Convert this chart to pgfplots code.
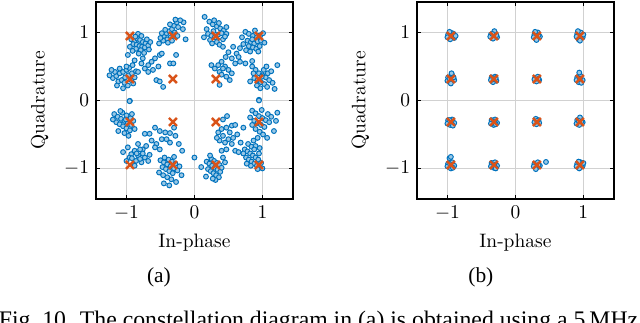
\documentclass[border=0pt]{standalone}
\usepackage{fontspec}
\usepackage{pgfplots}
\pgfplotsset{compat=1.18}
\newfontfamily\capfont{Liberation Serif}
\definecolor{mblue}{RGB}{0,114,189}
\definecolor{mred}{RGB}{217,83,25}

\pgfplotsset{
  constel/.style={
    scale only axis, width=101.3pt, height=101.3pt,
    xmin=-1.45, xmax=1.45, ymin=-1.45, ymax=1.45,
    xtick={-1,0,1}, ytick={-1,0,1},
    grid=major, grid style={black!18, line width=0.75pt},
    axis line style={line width=0.65pt},
    tick align=inside, major tick length=2pt, tick style={black, line width=0.5pt},
    xlabel={In-phase}, ylabel={Quadrature},
    every axis x label/.style={at={(axis description cs:0.5,-0.223)}, anchor=center},
    every axis y label/.style={at={(axis description cs:-0.286,0.5)}, rotate=90, anchor=center},
  },
  rx/.style={only marks, mark=*, mark size=1.25pt,
    mark options={draw=mblue, fill=mblue!40, line width=0.5pt}},
  ideal/.style={only marks, mark=x, mark size=2.9pt,
    mark options={draw=mred, line width=1.25pt}},
}

\begin{document}
\begin{tikzpicture}

% (a) received symbols, 5 MHz
\begin{axis}[constel, at={(49.3pt,63.7pt)}, anchor=south west]
\addplot[rx] coordinates {
 (-0.93,0.90) (-0.88,0.88) (-0.84,0.91) (-0.80,0.89) (-0.76,0.86) (-0.72,0.84) (-0.90,0.83) (-0.85,0.82)
 (-0.81,0.80) (-0.77,0.79) (-0.73,0.78) (-0.86,0.76) (-0.79,0.74) (-0.68,0.81) (-0.65,0.86) (-0.83,0.98)
 (-0.95,0.79) (-0.74,0.70) (-0.82,0.69) (-0.70,0.90) (-0.87,0.94) (-0.78,0.95) (-0.91,0.73) (-0.67,0.75)
 (-0.45,0.95) (-0.41,0.99) (-0.37,1.02) (-0.33,1.05) (-0.30,1.10) (-0.26,1.15) (-0.35,0.93) (-0.40,0.90)
 (-0.46,0.88) (-0.50,0.92) (-0.29,1.00) (-0.31,0.96) (-0.36,1.12) (-0.28,1.19) (-0.24,1.08) (-0.16,1.15)
 (-0.17,1.05) (-0.43,1.04) (-0.52,0.84) (-0.39,0.85) (-0.33,0.88) (-0.25,0.95) (-0.21,1.18) (-0.13,0.90)
 (-0.48,0.99)
 (-1.20,0.33) (-1.15,0.36) (-1.10,0.40) (-1.05,0.42) (-1.00,0.45) (-0.96,0.48) (-1.12,0.28) (-1.07,0.30)
 (-1.02,0.34) (-0.97,0.37) (-0.92,0.40) (-1.17,0.42) (-1.10,0.47) (-1.03,0.26) (-0.98,0.22) (-0.93,0.30)
 (-0.88,0.34) (-1.25,0.37) (-1.14,0.22) (-1.05,0.18) (-0.90,0.25) (-1.00,0.50) (-1.22,0.45) (-0.86,0.43)
 (-0.98,0.67) (-0.88,0.59) (-0.78,0.545) (-0.68,0.52) (-0.73,0.47) (-0.63,0.57) (-0.61,0.45) (-0.53,0.50)
 (-0.51,0.67) (-0.58,0.62) (-0.83,0.42) (-0.91,0.52) (-0.76,0.62) (-0.68,0.42) (-0.48,0.69) (-0.36,0.545)
 (-0.31,0.545) (-0.27,0.67) (-0.56,0.30) (-0.51,0.28) (-0.46,0.20) (-0.95,-0.005)
 (0.15,1.23) (0.22,1.16) (0.27,1.12) (0.33,1.09) (0.38,1.06) (0.43,1.03) (0.20,0.98) (0.25,0.95)
 (0.30,0.93) (0.35,0.97) (0.40,0.99) (0.47,1.08) (0.47,0.98) (0.28,1.02) (0.18,1.05) (0.23,0.89)
 (0.33,0.86) (0.37,0.82) (0.42,0.90) (0.14,0.93) (0.29,1.18) (0.36,1.14) (0.26,0.84) (0.45,0.94)
 (0.75,1.01) (0.80,0.98) (0.86,0.95) (0.92,0.93) (0.97,0.96) (1.01,0.99) (0.78,0.88) (0.83,0.86)
 (0.88,0.84) (0.93,0.87) (0.98,0.88) (0.72,0.83) (0.80,0.80) (0.86,0.78) (0.91,0.76) (0.96,0.80)
 (0.85,0.90) (0.70,0.93) (0.76,0.74) (0.82,0.72) (1.03,0.85) (0.89,1.03) (0.94,0.72) (0.67,0.77)
 (0.42,0.79) (0.57,0.79) (0.50,0.71) (0.62,0.69) (0.55,0.62) (0.67,0.57) (0.75,0.545) (0.85,0.58)
 (0.40,0.57) (0.35,0.52) (0.45,0.50) (0.50,0.45) (0.37,0.42) (0.55,0.40) (0.25,0.52) (0.47,0.35)
 (0.52,0.30) (0.37,0.23) (0.42,0.47) (0.60,0.545) (0.65,0.64) (0.46,0.64) (0.30,0.47) (0.40,0.38)
 (0.85,0.50) (0.90,0.45) (0.95,0.40) (1.00,0.37) (1.05,0.34) (1.10,0.30) (0.88,0.33) (0.93,0.30)
 (0.98,0.27) (1.03,0.24) (1.08,0.40) (1.13,0.43) (0.92,0.22) (0.97,0.18) (1.02,0.45) (0.87,0.40)
 (1.22,0.52) (1.18,0.17) (0.95,0.01) (1.15,0.26) (1.06,0.50) (0.82,0.28) (0.99,0.35) (1.07,0.20)
 (-1.18,-0.20) (-1.13,-0.24) (-1.08,-0.27) (-1.03,-0.30) (-0.98,-0.33) (-0.93,-0.36) (-1.15,-0.32) (-1.10,-0.35)
 (-1.05,-0.38) (-1.00,-0.41) (-0.95,-0.44) (-1.06,-0.18) (-1.00,-0.22) (-0.94,-0.26) (-0.90,-0.30) (-1.12,-0.45)
 (-1.03,-0.48) (-0.97,-0.52) (-0.88,-0.42) (-1.20,-0.28) (-0.955,-0.01) (-1.09,-0.155) (-0.92,-0.20) (-1.01,-0.28)
 (-0.58,-0.40) (-0.51,-0.45) (-0.43,-0.47) (-0.48,-0.57) (-0.56,-0.64) (-0.63,-0.59) (-0.71,-0.67) (-0.66,-0.49)
 (-0.41,-0.57) (-0.36,-0.62) (-0.28,-0.52) (-0.23,-0.64) (-0.18,-0.74) (-0.51,-0.72) (-0.58,-0.69) (-0.76,-0.72)
 (-0.73,-0.49) (-1.05,-0.76) (-0.98,-0.69) (-0.93,-0.79) (-0.88,-0.74) (-0.83,-0.81) (-0.80,-0.72) (-0.86,-0.89)
 (-0.78,-0.91) (-0.90,-0.94) (-0.73,-0.84) (-0.68,-0.89) (-0.955,-0.84) (-1.00,-0.89) (-0.83,-0.64) (-0.88,-0.96)
 (-0.85,-0.78) (-0.80,-0.86) (-0.92,-0.85) (-0.76,-0.78) (-0.66,-0.80) (-0.30,-0.40) (-0.36,-0.48)
 (-0.50,-0.88) (-0.45,-0.91) (-0.40,-0.94) (-0.35,-0.97) (-0.30,-1.00) (-0.25,-1.03) (-0.47,-0.98) (-0.42,-1.01)
 (-0.37,-1.04) (-0.32,-1.07) (-0.44,-0.84) (-0.38,-0.87) (-0.33,-0.90) (-0.28,-0.93) (-0.52,-1.06) (-0.46,-1.10)
 (-0.40,-1.13) (-0.34,-1.16) (-0.22,-0.97) (-0.19,-1.10) (-0.45,-1.22) (-0.37,-1.25) (-0.27,-1.20) (-0.30,-0.83)
 (0.85,-0.15) (0.90,-0.19) (0.95,-0.23) (1.00,-0.26) (1.05,-0.29) (1.10,-0.32) (0.88,-0.30) (0.93,-0.33)
 (0.98,-0.36) (1.03,-0.39) (1.08,-0.20) (1.13,-0.24) (0.90,-0.42) (0.96,-0.46) (1.01,-0.50) (0.85,-0.36)
 (1.20,-0.30) (1.17,-0.45) (0.95,0.00) (1.07,-0.55) (0.82,-0.25) (0.99,-0.14) (1.22,-0.18) (0.93,-0.55)
 (0.35,-0.47) (0.40,-0.42) (0.47,-0.40) (0.55,-0.37) (0.60,-0.36) (0.42,-0.52) (0.50,-0.57) (0.45,-0.62)
 (0.55,-0.64) (0.37,-0.59) (0.60,-0.74) (0.65,-0.76) (0.40,-0.74) (0.52,-0.47) (0.47,-0.72) (0.48,-0.23)
 (0.42,-0.28) (0.63,-0.50) (0.33,-0.55) (0.57,-0.55) (0.68,-0.62) (0.72,-0.40)
 (0.74,-0.72) (0.78,-0.75) (0.82,-0.78) (0.86,-0.81) (0.90,-0.84) (0.94,-0.87) (0.76,-0.84) (0.80,-0.87)
 (0.84,-0.90) (0.88,-0.93) (0.92,-0.96) (0.79,-0.64) (0.84,-0.68) (0.87,-0.59) (0.90,-0.67) (0.98,-0.92)
 (1.00,-1.00) (0.72,-0.78) (0.83,-0.96) (0.95,-0.78) (0.88,-0.72) (0.77,-0.93) (0.93,-1.01) (0.96,-0.70)
 (0.18,-0.90) (0.22,-0.93) (0.26,-0.96) (0.30,-0.99) (0.34,-1.02) (0.38,-1.05) (0.20,-1.01) (0.24,-1.04)
 (0.28,-1.07) (0.32,-1.10) (0.36,-1.13) (0.25,-0.86) (0.29,-0.89) (0.33,-0.92) (0.37,-0.95) (0.42,-0.84)
 (0.45,-0.91) (0.10,-0.98) (0.00,-0.84) (0.17,-1.12) (0.31,-1.17) (0.40,-0.99) (0.23,-0.81) (0.27,-1.15)
};
\addplot[ideal] coordinates {
 (-0.949,0.949) (-0.316,0.949) (0.316,0.949) (0.949,0.949)
 (-0.949,0.316) (-0.316,0.316) (0.316,0.316) (0.949,0.316)
 (-0.949,-0.316) (-0.316,-0.316) (0.316,-0.316) (0.949,-0.316)
 (-0.949,-0.949) (-0.316,-0.949) (0.316,-0.949) (0.949,-0.949)
};
\end{axis}

% (b) received symbols after compensation
\begin{axis}[constel, at={(214.3pt,63.7pt)}, anchor=south west]
\addplot[rx] coordinates {
 (-0.99,0.97) (-0.93,0.99) (-0.90,0.92) (-0.96,0.90) (-1.00,0.93) (-0.94,0.95) (-0.91,0.98) (-0.97,1.01) (-0.88,0.95)
 (-0.36,0.97) (-0.30,0.99) (-0.27,0.93) (-0.33,0.91) (-0.37,0.94) (-0.31,1.02) (-0.28,0.96) (-0.34,0.98)
 (0.28,0.97) (0.33,1.00) (0.36,0.94) (0.30,0.91) (0.27,0.93) (0.34,0.96) (0.31,0.89) (0.29,1.01)
 (0.91,0.98) (0.96,1.00) (0.99,0.93) (0.93,0.90) (0.90,0.94) (0.97,0.95) (0.95,0.88) (0.92,1.02) (1.00,0.97)
 (-0.99,0.34) (-0.93,0.37) (-0.90,0.30) (-0.96,0.27) (-1.00,0.29) (-0.94,0.40) (-0.91,0.34) (-0.97,0.32) (-0.95,0.25)
 (-0.35,0.34) (-0.30,0.35) (-0.28,0.29) (-0.33,0.27) (-0.36,0.30) (-0.31,0.31) (-0.29,0.33)
 (0.29,0.33) (0.33,0.35) (0.35,0.30) (0.31,0.28) (0.28,0.31) (0.34,0.32)
 (0.91,0.34) (0.96,0.36) (0.99,0.30) (0.93,0.27) (0.90,0.30) (0.97,0.26) (0.94,0.41) (0.95,0.32)
 (-0.99,-0.29) (-0.93,-0.28) (-0.90,-0.33) (-0.96,-0.36) (-1.00,-0.34) (-0.94,-0.31) (-0.92,-0.37) (-0.97,-0.29)
 (-0.35,-0.29) (-0.30,-0.28) (-0.27,-0.33) (-0.32,-0.36) (-0.36,-0.34) (-0.31,-0.31) (-0.29,-0.35)
 (0.30,-0.27) (0.34,-0.29) (0.35,-0.33) (0.31,-0.35) (0.28,-0.32) (0.32,-0.30)
 (0.91,-0.29) (0.96,-0.27) (0.99,-0.32) (0.94,-0.36) (0.90,-0.34) (0.97,-0.31) (0.95,-0.25) (0.93,-0.30)
 (-0.99,-0.93) (-0.93,-0.91) (-0.90,-0.96) (-0.95,-1.00) (-1.00,-0.97) (-0.97,-0.85) (-0.95,-0.83) (-0.92,-0.99) (-0.96,-0.94)
 (-0.35,-0.92) (-0.30,-0.91) (-0.27,-0.96) (-0.32,-0.99) (-0.36,-0.97) (-0.31,-0.95) (-0.29,-1.00)
 (0.28,-0.93) (0.33,-0.91) (0.36,-0.96) (0.31,-0.99) (0.27,-0.97) (0.34,-0.95) (0.45,-0.905) (0.30,-1.01)
 (0.91,-0.93) (0.96,-0.91) (0.99,-0.96) (0.94,-1.00) (0.90,-0.97) (0.97,-0.95) (1.00,-0.92) (0.93,-0.90)
};
\addplot[ideal] coordinates {
 (-0.949,0.949) (-0.316,0.949) (0.316,0.949) (0.949,0.949)
 (-0.949,0.316) (-0.316,0.316) (0.316,0.316) (0.949,0.316)
 (-0.949,-0.316) (-0.316,-0.316) (0.316,-0.316) (0.949,-0.316)
 (-0.949,-0.949) (-0.316,-0.949) (0.316,-0.949) (0.949,-0.949)
};
\end{axis}

\node[font=\capfont\fontsize{11}{13}\selectfont] at (81.7pt,23.6pt) {(a)};
\node[font=\capfont\fontsize{11}{13}\selectfont] at (247.2pt,23.6pt) {(b)};
\node[font=\capfont\fontsize{12.2}{14}\selectfont, anchor=base west, inner sep=0pt] at (-0.8pt,-2.2pt)
  {Fig.~10. The constellation diagram in (a) is obtained using a 5\,MHz};

\pgfresetboundingbox
\useasboundingbox (0,0) rectangle (329pt,166pt);
\end{tikzpicture}
\end{document}
